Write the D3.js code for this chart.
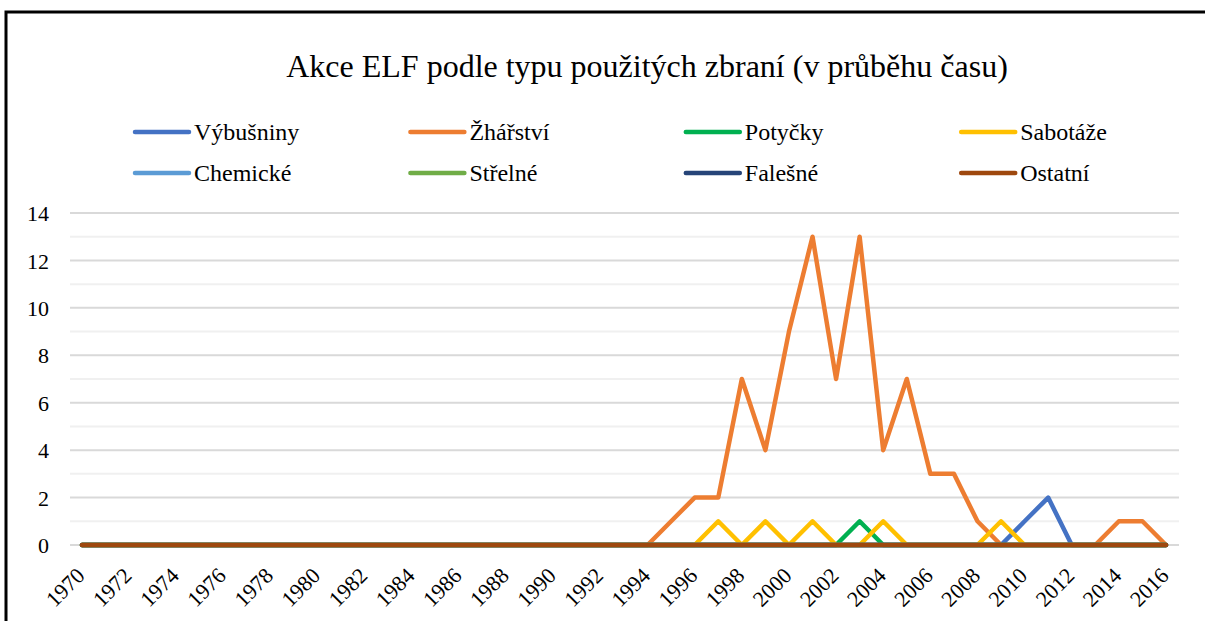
<!DOCTYPE html>
<html>
<head>
<meta charset="utf-8">
<script src="https://cdn.jsdelivr.net/npm/d3@7"></script>
<style>
  body { margin: 0; background: #fff; }
  svg { display: block; }
  text { font-family: "Liberation Serif", "Times New Roman", serif; fill: #000; }
</style>
</head>
<body>
<div id="chart"></div>
<script>
var years = d3.range(1970, 2017);
var yTicks = [0, 2, 4, 6, 8, 10, 12, 14];
var xTickYears = d3.range(1970, 2017, 2);

var names = ['Výbušniny', 'Žhářství', 'Potyčky', 'Sabotáže', 'Chemické', 'Střelné', 'Falešné', 'Ostatní'];
var colors = ['#4472C4', '#ED7D31', '#00B050', '#FFC000', '#5B9BD5', '#70AD47', '#264478', '#9E480E'];

// values per year, 1970..2016
var vybusniny = [0,0,0,0,0,0,0,0,0,0, 0,0,0,0,0,0,0,0,0,0, 0,0,0,0,0,0,0,0,0,0, 0,0,0,0,0,0,0,0,0,0, 1,2,0,0,0,0,0];
var zharstvi  = [0,0,0,0,0,0,0,0,0,0, 0,0,0,0,0,0,0,0,0,0, 0,0,0,0,0,1,2,2,7,4, 9,13,7,13,4,7,3,3,1,0, 0,0,0,0,1,1,0];
var potycky   = [0,0,0,0,0,0,0,0,0,0, 0,0,0,0,0,0,0,0,0,0, 0,0,0,0,0,0,0,0,0,0, 0,0,0,1,0,0,0,0,0,0, 0,0,0,0,0,0,0];
var sabotaze  = [0,0,0,0,0,0,0,0,0,0, 0,0,0,0,0,0,0,0,0,0, 0,0,0,0,0,0,0,1,0,1, 0,1,0,0,1,0,0,0,0,1, 0,0,0,0,0,0,0];
var chemicke  = [0,0,0,0,0,0,0,0,0,0, 0,0,0,0,0,0,0,0,0,0, 0,0,0,0,0,0,0,0,0,0, 0,0,0,0,0,0,0,0,0,0, 0,0,0,0,0,0,0];
var strelne   = [0,0,0,0,0,0,0,0,0,0, 0,0,0,0,0,0,0,0,0,0, 0,0,0,0,0,0,0,0,0,0, 0,0,0,0,0,0,0,0,0,0, 0,0,0,0,0,0,0];
var falesne   = [0,0,0,0,0,0,0,0,0,0, 0,0,0,0,0,0,0,0,0,0, 0,0,0,0,0,0,0,0,0,0, 0,0,0,0,0,0,0,0,0,0, 0,0,0,0,0,0,0];
var ostatni   = [0,0,0,0,0,0,0,0,0,0, 0,0,0,0,0,0,0,0,0,0, 0,0,0,0,0,0,0,0,0,0, 0,0,0,0,0,0,0,0,0,0, 0,0,0,0,0,0,0];

var series = [vybusniny, zharstvi, potycky, sabotaze, chemicke, strelne, falesne, ostatni];

var width = 1205, height = 621;
var svg = d3.select("#chart").append("svg")
    .attr("width", width)
    .attr("height", height);

// frame
svg.append("path")
    .attr("d", "M6,621 L6,12 L1205,12")
    .attr("fill", "none")
    .attr("stroke", "#000")
    .attr("stroke-width", 3);

// title
svg.append("text")
    .attr("x", 647)
    .attr("y", 77)
    .attr("text-anchor", "middle")
    .style("font-size", "32px")
    .text("Akce ELF podle typu použitých zbraní (v průběhu času)");

var x = d3.scaleLinear().domain([1970, 2016]).range([82, 1166]);
var y = d3.scaleLinear().domain([0, 14]).range([545, 213]);

// gridlines: minor (odd) lighter, major (even) darker
var g = svg.append("g");
g.selectAll("line.grid")
    .data(d3.range(0, 15))
    .enter()
    .append("line")
    .attr("x1", 70)
    .attr("x2", 1179)
    .attr("y1", function (d) { return y(d); })
    .attr("y2", function (d) { return y(d); })
    .attr("stroke", function (d) { return d % 2 == 0 ? "#d9d9d9" : "#f0f0f0"; })
    .attr("stroke-width", 2);

// y axis labels
var yAxis = d3.axisLeft(y).tickValues(yTicks).tickSize(0).tickPadding(0);
var ya = svg.append("g").attr("transform", "translate(49,0)").call(yAxis);
ya.select(".domain").remove();
ya.attr("font-family", null).attr("font-size", null);
ya.selectAll("text")
    .style("font-size", "22px")
    .attr("dy", "0.35em");

// x axis labels, rotated
var xa = svg.append("g");
xa.selectAll("text")
    .data(xTickYears)
    .enter()
    .append("text")
    .attr("text-anchor", "end")
    .style("font-size", "22px")
    .attr("transform", function (d) {
        return "translate(" + (x(d) + 4) + ",577) rotate(-45)";
    })
    .text(function (d) { return d; });

// lines
var line = d3.line()
    .x(function (d, i) { return x(years[i]); })
    .y(function (d) { return y(d); });

svg.selectAll("path.series")
    .data(series)
    .enter()
    .append("path")
    .attr("class", "series")
    .attr("d", line)
    .attr("fill", "none")
    .attr("stroke", function (d, i) { return colors[i]; })
    .attr("stroke-width", 4.5)
    .attr("stroke-linejoin", "round")
    .attr("stroke-linecap", "round");

// legend
var legend = svg.selectAll("g.legend")
    .data(names)
    .enter()
    .append("g")
    .attr("class", "legend")
    .attr("transform", function (d, i) {
        return "translate(" + (135 + (i % 4) * 275.4) + "," + (132 + Math.floor(i / 4) * 41) + ")";
    });

legend.append("line")
    .attr("x1", 0)
    .attr("x2", 54)
    .attr("stroke", function (d, i) { return colors[i]; })
    .attr("stroke-width", 4.5)
    .attr("stroke-linecap", "round");

legend.append("text")
    .attr("x", 59)
    .attr("dy", "0.35em")
    .style("font-size", "24px")
    .text(function (d) { return d; });
</script>
</body>
</html>
